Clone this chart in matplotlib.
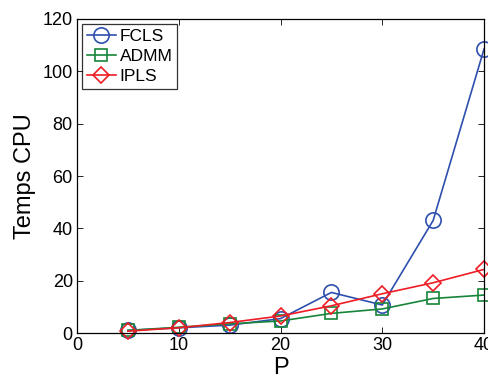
import numpy as np
import matplotlib.pyplot as plt

plt.rcParams['font.family'] = ['Liberation Sans', 'DejaVu Sans']

# problem size P and CPU time of each method
P = [5, 10, 15, 20, 25, 30, 35, 40]
fcls = [1.0, 2.0, 3.0, 5.5, 15.5, 10.7, 43.0, 108.5]
admm = [1.0, 2.2, 3.5, 4.6, 7.5, 9.2, 13.2, 14.5]
ipls = [0.7, 2.0, 4.0, 6.5, 10.4, 15.0, 19.2, 24.3]

fig = plt.figure(figsize=(4.89, 3.74), dpi=100)
ax = fig.add_axes([0.1575, 0.1096, 0.8323, 0.8396])

ax.plot(P, fcls, color='#2E4FAE', marker='o', markersize=11, mfc='none',
        mew=1.2, lw=1.2, label='FCLS', clip_on=False)
ax.plot(P, admm, color='#17853A', marker='s', markersize=8.5, mfc='none',
        mew=1.2, lw=1.2, label='ADMM', clip_on=False)
ax.plot(P, ipls, color='#EE1C25', marker='D', markersize=8, mfc='none',
        mew=1.2, lw=1.2, label='IPLS', clip_on=False)

ax.set_xlim(0, 40)
ax.set_ylim(0, 120)
ax.set_xticks(np.arange(0, 41, 10))
ax.set_yticks(np.arange(0, 121, 20))
ax.tick_params(direction='in', top=True, right=True, labelsize=13, length=4,
               width=0.6, pad=3)
for s in ax.spines.values():
    s.set_linewidth(0.9)

ax.set_xlabel('P', fontsize=17, labelpad=2)
ax.set_ylabel('Temps CPU', fontsize=17, labelpad=5)

leg = ax.legend(loc='upper left', fontsize=12.5, frameon=True, fancybox=False,
                edgecolor='black', borderpad=0.25, labelspacing=0.3,
                handlelength=1.7, handletextpad=0.2, borderaxespad=0.3)
leg.get_frame().set_linewidth(0.9)

fig.savefig('out.png', dpi=100)
